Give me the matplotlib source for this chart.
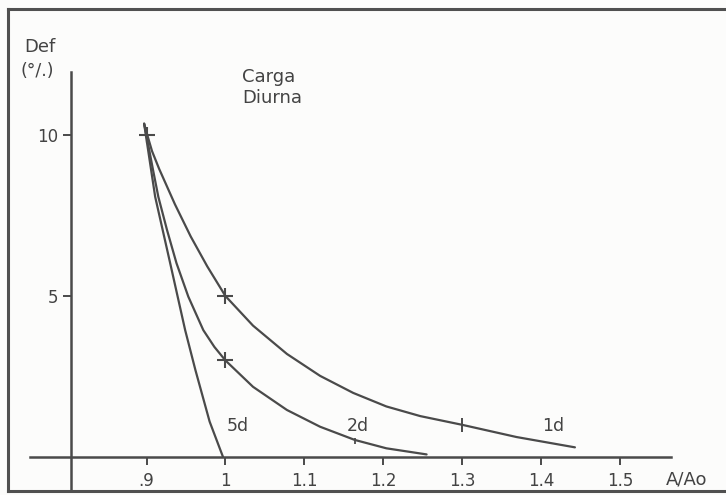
import matplotlib
matplotlib.use("Agg")
import matplotlib.pyplot as plt
from matplotlib.lines import Line2D

# ---- data ----
x_1d = [0.897, 0.901, 0.907, 0.916, 0.936, 0.956, 0.977, 1.000, 1.035, 1.078,
        1.120, 1.162, 1.204, 1.247, 1.300, 1.369, 1.443]
y_1d = [10.35, 10.0, 9.5, 8.95, 7.85, 6.85, 5.92, 5.00, 4.08, 3.20,
        2.52, 1.99, 1.57, 1.27, 1.00, 0.62, 0.30]

x_2d = [0.897, 0.901, 0.908, 0.915, 0.926, 0.938, 0.953, 0.972, 0.986, 1.000,
        1.035, 1.078, 1.120, 1.164, 1.204, 1.255]
y_2d = [10.35, 9.85, 8.95, 8.08, 7.05, 6.02, 4.98, 3.94, 3.42, 3.00,
        2.18, 1.46, 0.94, 0.53, 0.27, 0.08]

x_5d = [0.897, 0.911, 0.930, 0.949, 0.962, 0.980, 0.997]
y_5d = [10.35, 8.08, 6.02, 3.94, 2.70, 1.10, 0.0]

plus_x = [0.900, 1.000, 1.000]
plus_y = [10.0, 5.0, 3.0]
bar_x = [1.300, 1.164]
bar_y = [1.00, 0.50]

curve_labels = ["1d", "2d", "5d"]
label_x = [1.401, 1.154, 1.002]
label_y = [0.95, 0.95, 0.95]

x_ticks = [0.9, 1.0, 1.1, 1.2, 1.3, 1.4, 1.5]
x_ticklabels = [".9", "1", "1.1", "1.2", "1.3", "1.4", "1.5"]
y_ticks = [5, 10]
y_ticklabels = ["5", "10"]

# ---- figure ----
W, H = 726, 495
fig = plt.figure(figsize=(W / 100, H / 100), dpi=100)
fig.patch.set_facecolor("#fcfcfb")
ax = fig.add_axes([0, 0, 1, 1])
ax.set_facecolor("none")

ink = "#4a4a4a"
txt = "#434343"

# pixel mapping: x = 0.9 at px 146.5, 789 px/unit ; y = 0 at py 457, 32.2 px/unit
def xd(px):
    return 0.9 + (px - 146.5) / 789.0

def yd(py):
    return (457.0 - py) / 32.2

ax.set_xlim(xd(0), xd(W))
ax.set_ylim(yd(H), yd(0))

for s in ("top", "right"):
    ax.spines[s].set_visible(False)
ax.spines["left"].set_position(("data", xd(71)))
ax.spines["bottom"].set_position(("data", 0))
ax.spines["left"].set_bounds(yd(490), yd(72))
ax.spines["bottom"].set_bounds(xd(30), xd(671))
for s in ("left", "bottom"):
    ax.spines[s].set_color(ink)
    ax.spines[s].set_linewidth(1.8)

ax.set_xticks(x_ticks)
ax.set_xticklabels(x_ticklabels)
ax.set_yticks(y_ticks)
ax.set_yticklabels(y_ticklabels)
ax.tick_params(axis="x", direction="out", length=6, width=1.4, color=ink,
               labelcolor=txt, labelsize=12, pad=5)
ax.tick_params(axis="y", direction="out", length=6, width=1.4, color=ink,
               labelcolor=txt, labelsize=12, pad=3)

lw = 1.6
for xs, ys in ((x_1d, y_1d), (x_2d, y_2d), (x_5d, y_5d)):
    ax.plot(xs, ys, color=ink, lw=lw, solid_capstyle="round",
            solid_joinstyle="round")

ax.plot(plus_x, plus_y, linestyle="none", marker="+", markersize=11,
        markeredgewidth=1.5, color=ink)
ax.plot(bar_x[:1], bar_y[:1], linestyle="none", marker="|", markersize=10,
        markeredgewidth=1.4, color=ink)
ax.plot(bar_x[1:], bar_y[1:], linestyle="none", marker="|", markersize=5,
        markeredgewidth=1.3, color=ink)

for lab, lx, ly in zip(curve_labels, label_x, label_y):
    ax.text(lx, ly, lab, fontsize=12.5, color=txt, ha="left", va="center")

ax.text(xd(24), yd(47), "Def", fontsize=13, color=txt, ha="left", va="center")
ax.text(xd(21), yd(71), "(°/.)", fontsize=12.5, color=txt, ha="left", va="center")
ax.text(xd(242), yd(77), "Carga", fontsize=13, color=txt, ha="left", va="center")
ax.text(xd(242), yd(98), "Diurna", fontsize=13, color=txt, ha="left", va="center")
ax.text(xd(666), yd(479), "A/Ao", fontsize=13, color=txt, ha="left", va="center")

# frame of the scanned figure
fc = "#505050"
fig.add_artist(Line2D([8 / W, 8 / W], [1 - 9 / H, 1 - 491 / H], color=fc, lw=2.2,
                      transform=fig.transFigure))
fig.add_artist(Line2D([8 / W, 1.0], [1 - 9 / H, 1 - 9 / H], color=fc, lw=2.2,
                      transform=fig.transFigure))
fig.add_artist(Line2D([8 / W, 1.0], [1 - 491 / H, 1 - 491 / H], color=fc, lw=2.2,
                      transform=fig.transFigure))

fig.savefig("out.png", dpi=100, facecolor=fig.get_facecolor())
